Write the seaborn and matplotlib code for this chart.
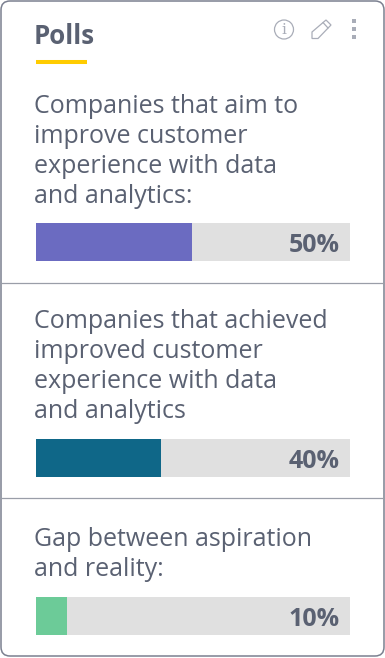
import matplotlib
matplotlib.use('Agg')
import matplotlib.pyplot as plt
from matplotlib.patches import FancyBboxPatch, Circle, Polygon
import pandas as pd
import seaborn as sns

#%%
# poll data
questions = ['Companies that aim to\nimprove customer\nexperience with data\nand analytics:',
             'Companies that achieved\nimproved customer\nexperience with data\nand analytics',
             'Gap between aspiration\nand reality:']
values = [50, 40, 10]
labels = ['50%', '40%', '10%']
colors = ['#6b6bc1', '#0f6788', '#6ccb98']

title = 'Polls'

W, H = 385, 658
text_col = '#5a6172'

sns.set_theme(style='white')
plt.rcParams['font.family'] = ['Open Sans', 'DejaVu Sans']

fig = plt.figure(figsize=(W / 100, H / 100), dpi=100)
fig.patch.set_facecolor('white')

# background layer in pixel coords
bg = fig.add_axes([0, 0, 1, 1])
bg.set_xlim(0, W)
bg.set_ylim(H, 0)
bg.axis('off')

bg.add_patch(FancyBboxPatch((1, 1), W - 2, H - 3, boxstyle='round,pad=0,rounding_size=9',
                            fc='white', ec='#7b8090', lw=1.1))
bg.text(34, 36, title, fontsize=18.6, fontweight='bold', color=text_col, va='center', ha='left')
bg.plot([36, 87], [61.5, 61.5], color='#ffcc00', lw=2.9, solid_capstyle='butt')

# icons
bg.add_patch(Circle((284, 29.5), 9.5, fc='none', ec='#a9adb8', lw=0.9))
bg.text(284, 29.5, 'i', fontsize=11, family='DejaVu Serif', color='#a9adb8', ha='center', va='center')
bg.add_patch(Polygon([(312, 38.5), (312, 32), (326, 20), (331, 25), (318, 38.5)],
                     closed=True, fc='none', ec='#a9adb8', lw=0.9))
bg.plot([323, 328], [22.5, 28], color='#a9adb8', lw=0.9)
bg.plot([354, 354, 354], [21, 29, 37], ls='none', marker='s', ms=3.0, color='#a9adb8', mew=0)

# separators
for y in [283, 498]:
    bg.plot([1, W - 1], [y, y], color='#9a9ea8', lw=0.9)

# question texts
for q, y in zip(questions, [94, 309, 527]):
    bg.text(34.5, y, q, fontsize=18, color=text_col, va='top', ha='left', linespacing=1.255)

# bars
bar_tops = [223, 439, 597]
bar_h = 38
for i in range(3):
    ax = fig.add_axes([36 / W, 1 - (bar_tops[i] + bar_h) / H, 314 / W, bar_h / H])
    df = pd.DataFrame({'q': [questions[i]], 'v': [values[i]]})
    sns.barplot(data=df, x='v', y='q', color=colors[i], saturation=1, width=1, linewidth=0, ax=ax)
    ax.set_xlim(0, 100.7)
    ax.set_facecolor('#e0e0e0')
    ax.set_xlabel('')
    ax.set_ylabel('')
    ax.set_xticks([])
    ax.set_yticks([])
    sns.despine(ax=ax, left=True, bottom=True)
    ax.text(0.968, 0.40, labels[i], transform=ax.transAxes, fontsize=18, fontweight='bold',
            color=text_col, ha='right', va='center')

fig.savefig('out.png', dpi=100)
